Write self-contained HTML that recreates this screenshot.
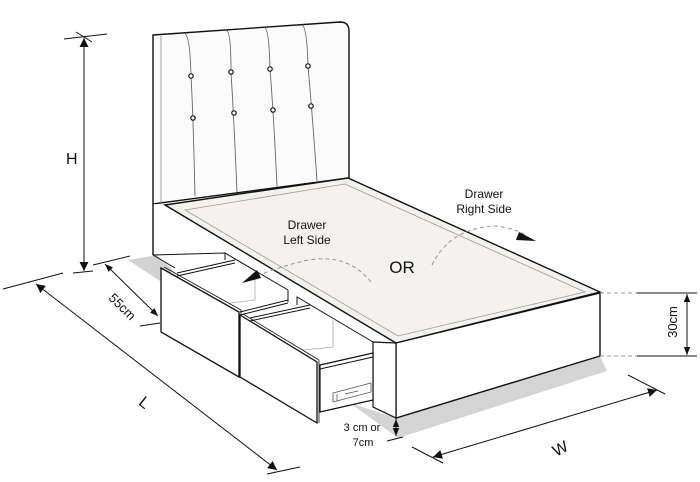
<!DOCTYPE html>
<html><head><meta charset="utf-8"><style>
html,body{margin:0;padding:0;background:#fff;}
svg{display:block;}
text{font-family:"Liberation Sans",Arial,sans-serif;fill:#111;}
</style></head><body>
<svg width="700" height="482" viewBox="0 0 700 482" xmlns="http://www.w3.org/2000/svg">
<defs>
<marker id="ah" viewBox="0 0 10 10" refX="10" refY="5" markerWidth="10" markerHeight="8" orient="auto-start-reverse" markerUnits="userSpaceOnUse"><path d="M0,1 L10,5 L0,9 Z" fill="#111"/></marker>
<marker id="ahb" viewBox="0 0 10 10" refX="10" refY="5" markerWidth="26" markerHeight="9" orient="auto-start-reverse" markerUnits="userSpaceOnUse"><path d="M0,0 L10,5 L0,10 Z" fill="#111"/></marker>
</defs>

<!-- floor shadows -->
<polygon points="128,260 157,255 173,270 160,281" fill="#d2d2d2"/>
<polygon points="350,403 396,418 600,356 607,371 398,438" fill="#d4d4d4"/>

<!-- headboard -->
<path d="M153,35 L340,22 Q349,22 349,31 L349,178 L153,204 Z" fill="#fbfbfb" stroke="#111" stroke-width="1.4"/>
<line x1="161" y1="36" x2="161" y2="203" stroke="#888" stroke-width="0.8"/>
<g fill="none" stroke="#666" stroke-width="0.9">
<path d="M185,34 Q190,36 191,76 Q193,110 195,196"/>
<path d="M227,31 Q231,33 231,72 Q234,120 237,192"/>
<path d="M265,28 Q269,30 270,69 Q274,120 277,187"/>
<path d="M302,25 Q307,27 308,66 Q312,110 317,181"/>
</g>
<g fill="#fff" stroke="#111" stroke-width="1.2">
<circle cx="191" cy="76" r="2.2"/><circle cx="231" cy="72" r="2.2"/><circle cx="270" cy="69" r="2.2"/><circle cx="308" cy="66" r="2.2"/>
<circle cx="193" cy="118" r="2.2"/><circle cx="234" cy="113" r="2.2"/><circle cx="273" cy="110" r="2.2"/><circle cx="311" cy="106" r="2.2"/>
</g>

<!-- base left side -->
<polygon points="153,204 165,205 396,343 373,342 297,297 288,290 225,253 153,255" fill="#fff" stroke="none"/>
<line x1="153" y1="204" x2="153" y2="255" stroke="#111" stroke-width="1.4"/>
<polyline points="153,255 225,253 225,260" fill="none" stroke="#111" stroke-width="1"/>
<line x1="153" y1="255" x2="175" y2="268" stroke="#111" stroke-width="1"/>
<line x1="225" y1="253" x2="288" y2="290" stroke="#111" stroke-width="1"/>
<polyline points="288,290 288,302" fill="none" stroke="#111" stroke-width="1"/>
<polyline points="297,305 297,297 373,342" fill="none" stroke="#111" stroke-width="1"/>

<!-- platform top -->
<polygon points="165,205 348,178 600,292 396,343" fill="#f4f2ee" stroke="#111" stroke-width="1.4"/>
<polygon points="185,210 345,184 585,292 398,336" fill="none" stroke="#999" stroke-width="0.8"/>

<!-- front-right face -->
<polygon points="396,343 600,293 600,356 396,418" fill="#fff" stroke="#111" stroke-width="1.4"/>
<polygon points="373,342 396,343 396,418 373,407" fill="#fff" stroke="#111" stroke-width="1.2"/>

<!-- drawer 1 interior -->
<g stroke="#111" stroke-width="1" fill="none">
<line x1="177" y1="273" x2="235" y2="260"/>
<line x1="177" y1="276" x2="235" y2="263"/>
<line x1="240" y1="312" x2="288" y2="300"/>
<line x1="240" y1="315" x2="288" y2="303"/>
</g>
<g stroke="#aaa" stroke-width="0.8" fill="none">
<line x1="255" y1="273" x2="255" y2="300"/>
<line x1="230" y1="303" x2="255" y2="300"/>
</g>
<!-- drawer 1 front -->
<polygon points="161,268 239,312 239,377 161,332" fill="#fff" stroke="#111" stroke-width="1.3"/>
<line x1="164" y1="267" x2="241" y2="310" stroke="#111" stroke-width="0.8"/>
<line x1="241" y1="310" x2="241" y2="377" stroke="#111" stroke-width="0.8"/>

<!-- drawer 2 interior -->
<polygon points="320,365 373,353 373,400 320,412" fill="#fff" stroke="#111" stroke-width="1.2"/>
<line x1="320" y1="369" x2="373" y2="357" stroke="#111" stroke-width="1"/>
<g stroke="#111" stroke-width="1" fill="none">
<line x1="250" y1="318" x2="310" y2="305"/>
<line x1="250" y1="321" x2="310" y2="308"/>
</g>
<g stroke="#aaa" stroke-width="0.8" fill="none">
<line x1="333" y1="320" x2="333" y2="347"/>
<line x1="303" y1="350" x2="333" y2="347"/>
</g>
<polygon points="333,393 371,383 371,392 333,402" fill="#fff" stroke="#555" stroke-width="0.8"/>
<line x1="337" y1="394" x2="337" y2="401" stroke="#555" stroke-width="0.8"/>
<line x1="345" y1="394" x2="358" y2="391" stroke="#555" stroke-width="0.8"/>
<!-- drawer 2 front -->
<polygon points="240,315 317,362 317,423 240,377" fill="#fff" stroke="#111" stroke-width="1.3"/>
<line x1="243" y1="314" x2="319" y2="360" stroke="#111" stroke-width="0.8"/>
<line x1="319" y1="360" x2="319" y2="423" stroke="#111" stroke-width="0.8"/>

<!-- drawer arrows -->
<path d="M371,282 Q345,250 300,262 Q268,270 246,281" fill="none" stroke="#999" stroke-width="1" stroke-dasharray="4,3"/>
<polygon points="242,283 257,270 261,278" fill="#111"/>
<path d="M432,265 Q450,228 495,226 Q515,228 527,236" fill="none" stroke="#999" stroke-width="1" stroke-dasharray="4,3"/>
<polygon points="536,241 519,232 516,240" fill="#111"/>
<text x="307" y="229" font-size="12" text-anchor="middle">Drawer</text>
<text x="307" y="244" font-size="12" text-anchor="middle">Left Side</text>
<text x="484" y="198" font-size="12" text-anchor="middle">Drawer</text>
<text x="484" y="213" font-size="12" text-anchor="middle">Right Side</text>
<text x="402" y="273" font-size="17" text-anchor="middle">OR</text>

<!-- H dimension -->
<line x1="64" y1="39" x2="107" y2="34" stroke="#111" stroke-width="1"/>
<line x1="76" y1="32" x2="92" y2="42" stroke="#111" stroke-width="1"/>
<line x1="84" y1="38" x2="84" y2="271" stroke="#111" stroke-width="1" marker-start="url(#ahb)" marker-end="url(#ahb)"/>
<text x="66" y="164" font-size="16">H</text>

<!-- floor line left + L -->
<line x1="3" y1="289" x2="63" y2="273" stroke="#111" stroke-width="1"/>
<line x1="73" y1="273" x2="93" y2="271" stroke="#111" stroke-width="1"/>
<line x1="93" y1="265" x2="130" y2="256" stroke="#111" stroke-width="1"/>
<line x1="36" y1="284" x2="277" y2="470" stroke="#111" stroke-width="1" marker-start="url(#ahb)" marker-end="url(#ahb)"/>
<line x1="267" y1="474" x2="300" y2="467" stroke="#111" stroke-width="1"/>
<text x="145" y="408" font-size="16" text-anchor="middle" transform="rotate(38 145 402)">L</text>

<!-- 55cm -->
<line x1="105" y1="264" x2="158" y2="316" stroke="#111" stroke-width="1" marker-start="url(#ah)" marker-end="url(#ah)"/>
<line x1="140" y1="326" x2="160" y2="323" stroke="#111" stroke-width="1"/>
<text x="122" y="311" font-size="13" text-anchor="middle" transform="rotate(45 122 307)">55cm</text>

<!-- 30cm -->
<line x1="600" y1="293" x2="637" y2="293" stroke="#999" stroke-width="1" stroke-dasharray="4,3"/>
<line x1="637" y1="293" x2="697" y2="293" stroke="#111" stroke-width="1"/>
<line x1="600" y1="356" x2="637" y2="356" stroke="#999" stroke-width="1" stroke-dasharray="4,3"/>
<line x1="637" y1="356" x2="697" y2="356" stroke="#111" stroke-width="1"/>
<line x1="687" y1="294" x2="687" y2="355" stroke="#111" stroke-width="1" marker-start="url(#ah)" marker-end="url(#ah)"/>
<text x="672" y="327" font-size="13" text-anchor="middle" transform="rotate(-90 672 322)">30cm</text>

<!-- W -->
<line x1="433" y1="457" x2="657" y2="390" stroke="#111" stroke-width="1" marker-start="url(#ahb)" marker-end="url(#ahb)"/>
<line x1="412" y1="447" x2="443" y2="463" stroke="#111" stroke-width="1"/>
<line x1="628" y1="375" x2="665" y2="394" stroke="#111" stroke-width="1"/>
<text x="560" y="454" font-size="16" text-anchor="middle" transform="rotate(-28 560 448)">W</text>

<!-- leg height -->
<line x1="396" y1="419" x2="396" y2="436" stroke="#111" stroke-width="1" marker-start="url(#ah)" marker-end="url(#ah)"/>
<line x1="387" y1="441" x2="403" y2="437" stroke="#111" stroke-width="1"/>
<text x="362" y="431" font-size="11" text-anchor="middle">3 cm or</text>
<text x="363" y="446" font-size="11" text-anchor="middle">7cm</text>
</svg>
</body></html>
